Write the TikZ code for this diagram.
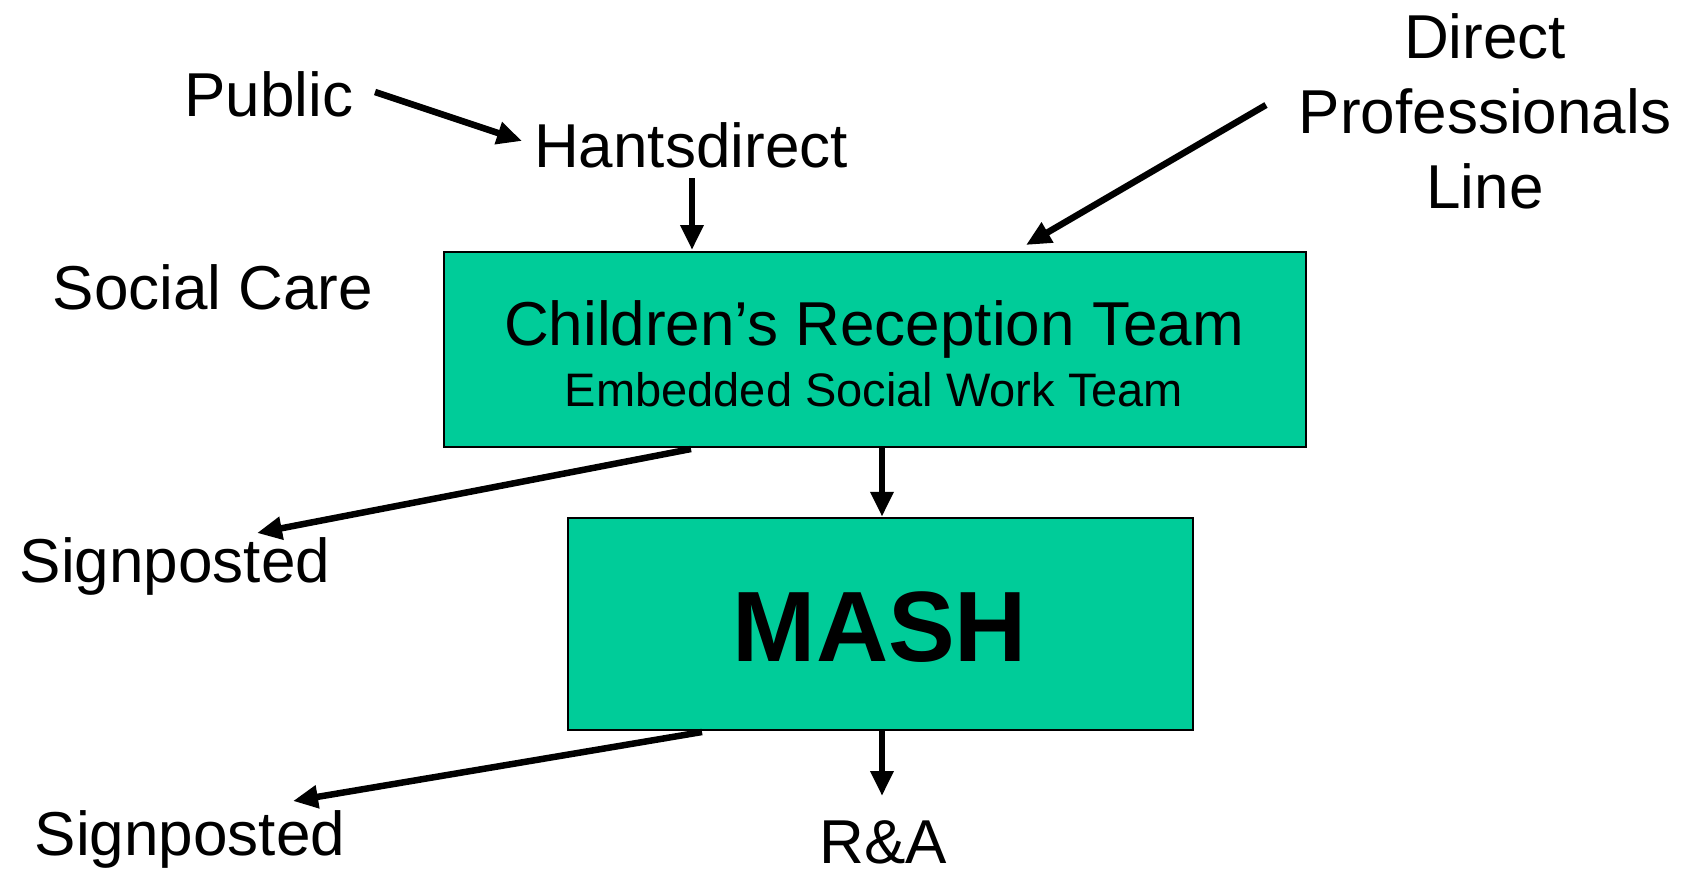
\documentclass[tikz,border=0pt]{standalone}
\usepackage{fontspec}
\setmainfont{Liberation Sans}
\usetikzlibrary{arrows.meta}
\definecolor{teal}{HTML}{00CC99}
\begin{document}
\begin{tikzpicture}[x=1pt,y=-1pt,
  lbl/.style={inner sep=0pt,anchor=base,font=\fontsize{62}{75}\selectfont},
  box/.style={draw=black,line width=2.5pt,fill=teal,inner sep=0pt},
  arr/.style={line width=6.5pt,-{Triangle[length=25pt,width=22pt]}}]
\useasboundingbox (0,0) rectangle (1690,875);
% boxes
\node[box,minimum width=862pt,minimum height=195pt] (crt) at (875,349.5) {};
\node[box,minimum width=625pt,minimum height=212pt] (mash) at (880.5,624) {};
% texts
\node[lbl] (pub) at (269,116) {Public};
\node[lbl] (hd) at (691,167) {Hantsdirect};
\node[lbl] (sc) at (213,309) {Social Care};
\node[lbl,align=center] (dpl) at (1485,208) {Direct\\Professionals\\Line};
\node[lbl] (crtt) at (874,345) {Children’s Reception Team};
\node[lbl,font=\fontsize{47}{56}\selectfont] (emb) at (874,406) {Embedded Social Work Team};
\node[lbl,font=\fontsize{100}{120}\selectfont\bfseries] (mt) at (880,661) {MASH};
\node[lbl] (sp1) at (175,582) {Signposted};
\node[lbl] (sp2) at (190,855) {Signposted};
\node[lbl] (ra) at (883,863) {R\&A};
% connector points
\coordinate (a1s) at (375,92);  \coordinate (a1e) at (522,141);
\coordinate (a3s) at (1266,105); \coordinate (a3e) at (1026,245);
\coordinate (a4s) at (691,449); \coordinate (a4e) at (257,533);
\coordinate (a6s) at (702,732); \coordinate (a6e) at (293,801);
% arrows
\draw[arr] (a1s) -- (a1e);
\draw[arr] (692,178) -- (692,250);
\draw[arr] (a3s) -- (a3e);
\draw[arr] (a4s) -- (a4e);
\draw[arr] (crt.south -| 882,0) -- (mash.north -| 882,0);
\draw[arr] (a6s) -- (a6e);
\draw[arr] (mash.south -| 882,0) -- (882,796);
\end{tikzpicture}
\end{document}
